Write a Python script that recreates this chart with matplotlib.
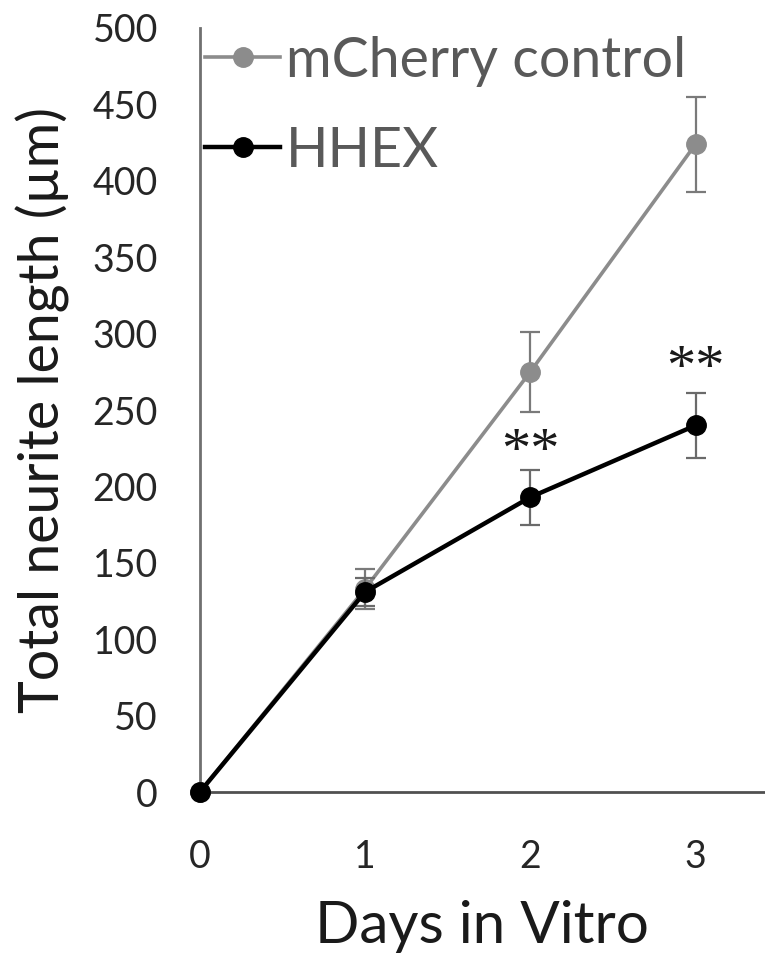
import matplotlib.pyplot as plt
from matplotlib.lines import Line2D

# data
days = [0, 1, 2, 3]
mcherry_mean = [0, 133, 275, 424]
mcherry_err = [0, 13, 26, 31]
hhex_mean = [0, 131, 193, 240]
hhex_err = [0, 9, 18, 21]
star_days = [2, 3]
star_heights = [222, 276]

gray = '#8c8c8c'

plt.rcParams['font.family'] = ['Lato', 'DejaVu Sans']

fig = plt.figure(figsize=(7.65, 9.65), dpi=100)
ax = fig.add_axes([0.261, 0.179, 0.739, 0.792])

# control series (gray); no error bar drawn at day 0
c = ax.errorbar(days, mcherry_mean, yerr=mcherry_err, color=gray, lw=2.6,
                marker='o', markersize=14, ecolor='#7a7a7a', elinewidth=1.6,
                capsize=7, capthick=1.6, errorevery=(1, 1), zorder=3)
# HHEX series (black)
h = ax.errorbar(days, hhex_mean, yerr=hhex_err, color='black', lw=3.2,
                marker='o', markersize=14, ecolor='#6a6a6a', elinewidth=1.6,
                capsize=7, capthick=1.6, errorevery=(1, 1), zorder=4)
for eb in (c, h):
    eb[0].set_clip_on(False)

# significance markers
for d, v in zip(star_days, star_heights):
    ax.text(d, v, '**', ha='center', va='center', fontsize=42,
            family='Liberation Serif', color='#1a1a1a')

ax.set_xlim(0, 3.42)
ax.set_ylim(0, 500)
ax.set_xticks(days)
ax.set_yticks(range(0, 501, 50))
ax.tick_params(length=0, labelsize=27, labelcolor='#262626')
ax.tick_params(axis='y', pad=30)
ax.tick_params(axis='x', pad=34)

for side in ['top', 'right']:
    ax.spines[side].set_visible(False)
ax.spines['left'].set_color('#707070')
ax.spines['bottom'].set_color('#505050')
ax.spines['left'].set_linewidth(2)
ax.spines['bottom'].set_linewidth(2)

ax.set_xlabel('Days in Vitro', fontsize=42, color='#1a1a1a', labelpad=18)
ax.set_ylabel('Total neurite length (\u00b5m)', fontsize=40, color='#1a1a1a',
              labelpad=16)

handles = [Line2D([], [], color=gray, lw=2.6, marker='o', markersize=14),
           Line2D([], [], color='black', lw=3.2, marker='o', markersize=14)]
ax.legend(handles, ['mCherry control', 'HHEX'], loc='upper left',
          bbox_to_anchor=(0.01, 0.99), frameon=False,
          fontsize=40, labelcolor='#595959', handlelength=1.35,
          handletextpad=0.1, labelspacing=0.7, borderpad=0,
          borderaxespad=0)

fig.savefig('out.png', dpi=100)
